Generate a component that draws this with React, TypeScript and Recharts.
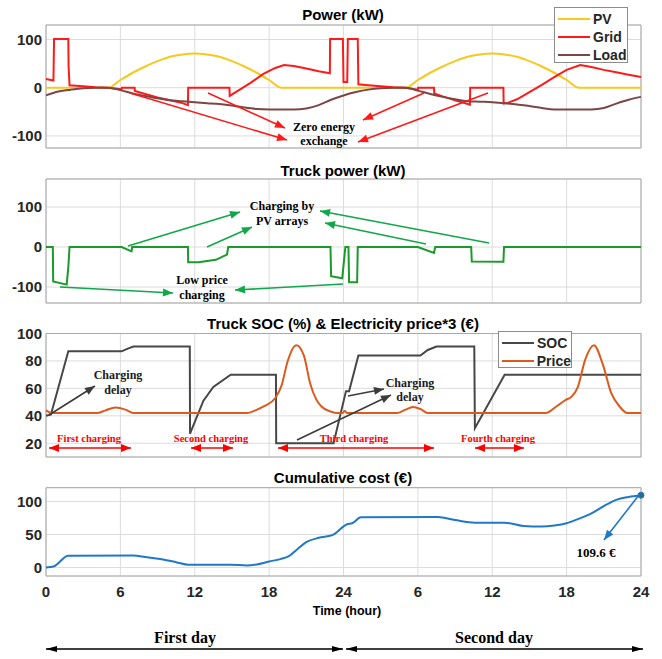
import React from 'react';
import { LineChart, Line, XAxis, YAxis, CartesianGrid, ReferenceArea, ReferenceDot } from 'recharts';

// time axis (hours over two days)
const hourTicks = [0, 6, 12, 18, 24, 30, 36, 42, 48];

// Power (kW)
const pvHours = [0, 5, 6, 7, 8, 9, 10, 11, 12, 13, 14, 15, 16, 17, 18, 19, 29, 30, 31, 32, 33, 34, 35, 36, 37, 38, 39, 40, 41, 42, 43, 48];
const pvKw = [0, 0, 16, 31, 44, 55, 64, 69, 71, 69, 64, 55, 44, 31, 16, 0, 0, 16, 31, 44, 55, 64, 69, 71, 69, 64, 55, 44, 31, 16, 0, 0];

const gridHours = [0, 0.4, 0.6, 0.65, 1.8, 1.82, 1.9, 3, 4, 5, 6.1, 6.12, 7.15, 7.17, 8, 9, 10, 11, 11.45, 11.47, 14.8, 14.82, 15.5, 16.5, 17.5, 18.5, 19.2, 20, 21, 22, 22.9, 22.92, 23.95, 24, 24.3, 24.35, 25.15, 25.2, 26, 27, 28, 29, 30, 30.02, 31.3, 31.32, 32, 33, 34.2, 34.22, 36.9, 36.92, 37.3, 38, 39, 40, 41, 42, 43.1, 44, 45, 46, 47, 48];
const gridKw = [18, 16, 15, 101, 101, 45, 5, 3, 1, 0, -3, 0, 0, -7, -13, -20, -26, -32, -36, 0, 0, -17, -6, 10, 28, 41, 47, 45, 40, 34, 30, 101, 101, 12, 12, 101, 101, 7, 5, 3, 1, 0, -4, 0, 0, -12, -18, -26, -35, 0, 0, -33, -31, -24, -9, 6, 22, 37, 47, 43, 37, 32, 27, 22];

const loadHours = [0, 1, 2, 3, 4, 5, 6, 7, 8, 9, 10, 11, 12, 13, 14, 15, 16, 17, 18, 19, 20, 21, 22, 23, 24, 25, 26, 27, 28, 29, 30, 31, 32, 33, 34, 35, 36, 37, 38, 39, 40, 41, 42, 43, 44, 45, 46, 47, 48];
const loadKw = [-16, -8, -4, -1, 0, 0, -5, -12, -17, -22, -26, -28, -30, -32, -34, -37, -41, -44, -45, -45, -45, -43, -36, -25, -16, -9, -4, -1, 0, 0, -6, -13, -19, -24, -28, -29, -30, -32, -35, -38, -42, -45, -45, -45, -45, -42, -33, -25, -19];

// Truck power (kW)
const truckHours = [0, 0.55, 0.58, 1.67, 1.8, 1.9, 6.1, 6.9, 6.95, 11.45, 11.47, 12.3, 13.7, 14.6, 14.7, 22.95, 23.0, 23.9, 24.15, 24.4, 24.45, 25.1, 25.15, 30, 31.3, 31.4, 34.3, 34.35, 36.9, 36.95, 48];
const truckKw = [0, 0, -86, -94, -50, 0, 0, -11, 0, 0, -38, -38, -32, -19, 0, 0, -73, -78, 0, 0, -88, -88, 0, 0, -15, 0, 0, -36, -37, 0, 0];

// Truck SOC (%) and price*3
const socHours = [0, 0.4, 1.8, 6.1, 6.6, 7.05, 11.6, 11.62, 12.2, 12.7, 13.5, 14.9, 18.55, 18.57, 23.2, 24.2, 24.45, 25.2, 30.2, 30.8, 31.5, 34.55, 34.6, 37.0, 48];
const socPct = [40, 41, 87, 87, 89, 90.5, 90.5, 27, 40, 51, 61, 70, 70, 20, 20, 58, 58, 84, 84, 88, 90.5, 90.5, 31, 70, 70];

const priceHours = [0, 0.5, 4.1, 4.8, 5.6, 6.4, 7.05, 16.2, 16.9, 17.6, 18.5, 19, 19.5, 20.2, 20.8, 21.3, 21.8, 22.2, 23, 23.5, 23.9, 24.1, 24.3, 28.3, 29, 29.6, 30.2, 30.8, 40.3, 41.2, 41.9, 42.4, 42.9, 43.5, 44.2, 44.9, 45.6, 46.3, 46.9, 48];
const priceVal = [44, 42, 42, 44, 46, 44.5, 42, 42, 44, 47, 53, 62, 80, 91.5, 84, 64, 52, 47, 43, 42, 42, 43.5, 42, 42, 44.5, 46.5, 45, 42, 42, 47, 51.5, 54, 61, 81, 91.5, 78, 56.5, 46.5, 42, 42];

// Cumulative cost (€)
const costHours = [0, 0.6, 1.8, 7, 8, 9.2, 10.5, 11.5, 14.9, 16.2, 17, 18, 18.9, 19.6, 20.3, 21.07, 22, 23.1, 24.3, 24.7, 25.4, 31.6, 33, 34.6, 37, 38.5, 40, 41, 42, 43, 44, 45, 46, 47, 48];
const costEur = [0, 1.5, 17.7, 18, 16, 12.7, 8, 4, 4.2, 3, 4.5, 9, 12.6, 17, 28, 39, 45, 49, 65.5, 67, 76, 76.5, 72, 68, 68, 63, 62, 63.5, 67, 74, 82, 93, 102.6, 107, 109.6];

const toRows = (hours: number[], vals: number[]) => hours.map((t, i) => ({ t, v: vals[i] }));

const SANS = '"Liberation Sans", Arial, Helvetica, sans-serif';
const SERIF = '"Liberation Serif", "Times New Roman", serif';
const tickStyle = { fontSize: 15, fontWeight: 700, fill: '#262626', fontFamily: SANS };

const hourLabel = (v: number) => (v === 0 ? '0' : String(v % 24 === 0 ? 24 : v % 24));

type PanelProps = {
  top: number;
  height: number;
  mTop: number;
  mBottom: number;
  domain: [number, number];
  yTicks: number[];
  showX?: boolean;
  children: React.ReactNode;
};

function Panel({ top, height, mTop, mBottom, domain, yTicks, showX, children }: PanelProps) {
  return (
    <div style={{ position: 'absolute', left: 0, top }}>
      <LineChart width={662} height={height} margin={{ top: mTop, right: 21, bottom: mBottom, left: 0 }}>
        <CartesianGrid stroke="#dcdcdc" />
        <XAxis
          dataKey="t"
          type="number"
          domain={[0, 48]}
          ticks={hourTicks}
          interval={0}
          hide={!showX}
          height={30}
          axisLine={false}
          tickLine={false}
          tickSize={0}
          tickMargin={10}
          tick={tickStyle}
          tickFormatter={hourLabel}
        />
        <YAxis
          type="number"
          domain={domain}
          ticks={yTicks}
          interval={0}
          allowDataOverflow
          width={46}
          axisLine={false}
          tickLine={false}
          tickSize={0}
          tickMargin={4}
          tick={tickStyle}
        />
        <ReferenceArea x1={0} x2={48} y1={domain[0]} y2={domain[1]} fill="none" stroke="#a8a8a8" strokeWidth={1} />
        {children}
      </LineChart>
    </div>
  );
}

function Txt({ x, y, size, children, serif, color = '#000', bold = true }: any) {
  return (
    <div
      style={{
        position: 'absolute',
        left: x,
        top: y,
        transform: 'translate(-50%, -50%)',
        whiteSpace: 'nowrap',
        lineHeight: 1,
        fontSize: size,
        fontWeight: bold ? 700 : 400,
        fontFamily: serif ? SERIF : SANS,
        color,
      }}
    >
      {children}
    </div>
  );
}

function Head({ x, y, fx, fy, color, len, wid }: any) {
  const a = Math.atan2(y - fy, x - fx);
  const bx = x - len * Math.cos(a);
  const by = y - len * Math.sin(a);
  const px = (wid / 2) * Math.sin(a);
  const py = (wid / 2) * Math.cos(a);
  return <polygon points={`${x},${y} ${bx + px},${by - py} ${bx - px},${by + py}`} fill={color} />;
}

function Arrow({ x1, y1, x2, y2, color, both = false, w = 1.6, len = 10, wid = 8 }: any) {
  return (
    <g>
      <line x1={x1} y1={y1} x2={x2} y2={y2} stroke={color} strokeWidth={w} />
      <Head x={x2} y={y2} fx={x1} fy={y1} color={color} len={len} wid={wid} />
      {both && <Head x={x1} y={y1} fx={x2} fy={y2} color={color} len={len} wid={wid} />}
    </g>
  );
}

function LegendBox({ x, y, w, h, items }: any) {
  return (
    <div
      style={{
        position: 'absolute',
        left: x,
        top: y,
        width: w,
        height: h,
        background: '#fff',
        border: '1px solid #8c8c8c',
        boxSizing: 'border-box',
        padding: '2px 0 0 3px',
      }}
    >
      {items.map((it: any) => (
        <div key={it.name} style={{ display: 'flex', alignItems: 'center', height: 18 }}>
          <div style={{ width: 32, height: 2, background: it.color, marginRight: 3 }} />
          <span style={{ fontFamily: SANS, fontWeight: 700, fontSize: 14, color: '#262626' }}>{it.name}</span>
        </div>
      ))}
    </div>
  );
}

export default function App() {
  const red = '#ff1a1a';
  const green = '#10a84a';
  const dark = '#3c3c3c';
  return (
    <div style={{ position: 'absolute', left: 0, top: 0, width: 662, height: 659, background: '#fff', overflow: 'hidden' }}>
      <Panel top={0} height={160} mTop={25} mBottom={12} domain={[-125, 130]} yTicks={[-100, 0, 100]}>
        <Line data={toRows(pvHours, pvKw)} dataKey="v" type="monotone" stroke="#f7c81e" strokeWidth={2} dot={false} isAnimationActive={false} />
        <Line data={toRows(gridHours, gridKw)} dataKey="v" type="linear" stroke="#ff1a1a" strokeWidth={2} dot={false} isAnimationActive={false} />
        <Line data={toRows(loadHours, loadKw)} dataKey="v" type="monotone" stroke="#7d4646" strokeWidth={2} dot={false} isAnimationActive={false} />
      </Panel>

      <Panel top={160} height={150} mTop={19} mBottom={7} domain={[-140, 170]} yTicks={[-100, 0, 100]}>
        <Line data={toRows(truckHours, truckKw)} dataKey="v" type="linear" stroke="#1a9a2a" strokeWidth={2} dot={false} isAnimationActive={false} />
      </Panel>

      <Panel top={310} height={155} mTop={23.5} mBottom={8} domain={[10, 100]} yTicks={[20, 40, 60, 80, 100]}>
        <Line data={toRows(socHours, socPct)} dataKey="v" type="linear" stroke="#474747" strokeWidth={2} dot={false} isAnimationActive={false} />
        <Line data={toRows(priceHours, priceVal)} dataKey="v" type="monotone" stroke="#dc5a1e" strokeWidth={2} dot={false} isAnimationActive={false} />
      </Panel>

      <Panel top={465} height={141} mTop={22.7} mBottom={0} domain={[-13, 121]} yTicks={[0, 50, 100]} showX>
        <Line data={toRows(costHours, costEur)} dataKey="v" type="monotone" stroke="#1f78c8" strokeWidth={2} dot={false} isAnimationActive={false} />
        <ReferenceDot x={costHours[costHours.length - 1]} y={costEur[costEur.length - 1]} r={3} fill="#2d6d86" stroke="#1f78c8" />
      </Panel>

      {/* titles */}
      <Txt x={343} y={14} size={15}>Power (kW)</Txt>
      <Txt x={343} y={170} size={15}>Truck power (kW)</Txt>
      <Txt x={343} y={323} size={15}>Truck SOC (%) &amp; Electricity price*3 (€)</Txt>
      <Txt x={343} y={477} size={15}>Cumulative cost (€)</Txt>
      <Txt x={347} y={611} size={12.5}>Time (hour)</Txt>

      {/* legends */}
      <LegendBox x={554} y={7} w={74} h={56} items={[{ name: 'PV', color: '#f7c81e' }, { name: 'Grid', color: '#ff1a1a' }, { name: 'Load', color: '#7d4646' }]} />
      <LegendBox x={498} y={331} w={74} h={37} items={[{ name: 'SOC', color: '#474747' }, { name: 'Price', color: '#dc5a1e' }]} />

      {/* annotation text */}
      <Txt x={324} y={127} size={12} serif>Zero energy</Txt>
      <Txt x={324} y={141} size={12} serif>exchange</Txt>
      <Txt x={282} y={206} size={12} serif>Charging by</Txt>
      <Txt x={282} y={221} size={12} serif>PV arrays</Txt>
      <Txt x={202} y={280} size={12} serif>Low price</Txt>
      <Txt x={202} y={295} size={12} serif>charging</Txt>
      <Txt x={118} y={375} size={12} serif color="#1a1a1a">Charging</Txt>
      <Txt x={118} y={390} size={12} serif color="#1a1a1a">delay</Txt>
      <Txt x={410} y={383} size={12} serif color="#1a1a1a">Charging</Txt>
      <Txt x={410} y={397} size={12} serif color="#1a1a1a">delay</Txt>
      <Txt x={89} y={439} size={10.5} serif color="#ff0000">First charging</Txt>
      <Txt x={211} y={439} size={10.5} serif color="#ff0000">Second charging</Txt>
      <Txt x={354} y={439} size={10.5} serif color="#ff0000">Third charging</Txt>
      <Txt x={498} y={439} size={10.5} serif color="#ff0000">Fourth charging</Txt>
      <Txt x={596} y={552} size={13} serif>109.6 €</Txt>
      <Txt x={185} y={638} size={16} serif>First day</Txt>
      <Txt x={494} y={638} size={16} serif>Second day</Txt>

      <svg width={662} height={659} style={{ position: 'absolute', left: 0, top: 0, pointerEvents: 'none' }}>
        <Arrow x1={208} y1={93} x2={285} y2={128} color={red} />
        <Arrow x1={130} y1={93} x2={287} y2={140} color={red} />
        <Arrow x1={424} y1={93} x2={363} y2={120} color={red} />
        <Arrow x1={488} y1={93} x2={358} y2={142} color={red} />

        <Arrow x1={128} y1={246} x2={240} y2={212} color={green} />
        <Arrow x1={207} y1={247} x2={252} y2={227} color={green} />
        <Arrow x1={426} y1={244} x2={325} y2={223} color={green} />
        <Arrow x1={489} y1={243} x2={320} y2={211} color={green} />
        <Arrow x1={60} y1={287} x2={173} y2={293} color={green} />
        <Arrow x1={343} y1={284} x2={235} y2={290} color={green} />

        <Arrow x1={49} y1={415} x2={95} y2={386} color={dark} />
        <Arrow x1={348} y1={396} x2={384} y2={389} color={dark} />
        <Arrow x1={297} y1={440} x2={391} y2={395} color={dark} />

        <Arrow x1={49} y1={448} x2={131} y2={448} color="#ff0000" both />
        <Arrow x1={191} y1={448} x2={233} y2={448} color="#ff0000" both />
        <Arrow x1={278} y1={448} x2={434} y2={448} color="#ff0000" both />
        <Arrow x1={475} y1={448} x2={524} y2={448} color="#ff0000" both />

        <Arrow x1={639} y1={495} x2={604} y2={540} color="#1f78c8" />

        <Arrow x1={46} y1={649} x2={343} y2={649} color="#000" both w={1.3} len={11} wid={6} />
        <Arrow x1={346} y1={649} x2={643} y2={649} color="#000" both w={1.3} len={11} wid={6} />
      </svg>
    </div>
  );
}
